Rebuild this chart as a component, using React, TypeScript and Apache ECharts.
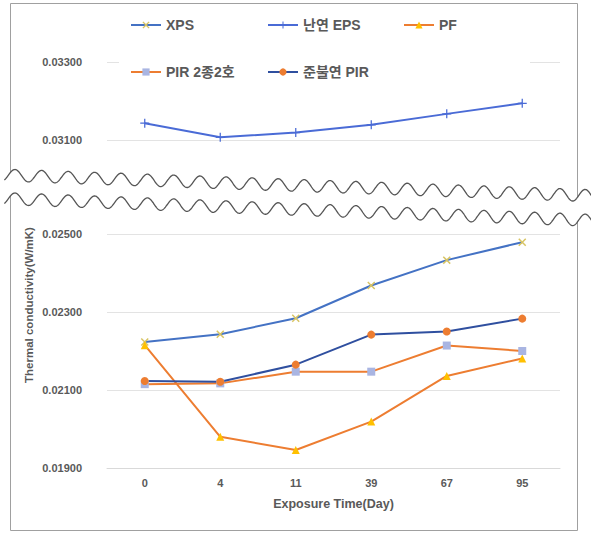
import React, { useEffect, useRef } from "react";
import * as echarts from "echarts";

const categories = ["0", "4", "11", "39", "67", "95"];
const xpsValues = [0.02223, 0.02243, 0.02284, 0.02368, 0.02433, 0.02479];
const epsValues = [0.03143, 0.03107, 0.03119, 0.03139, 0.03167, 0.03194];
const pfValues = [0.02215, 0.0198, 0.01946, 0.02019, 0.02136, 0.02181];
const pir22Values = [0.02115, 0.02117, 0.02147, 0.02147, 0.02214, 0.022];
const pirSemiValues = [0.02123, 0.02121, 0.02165, 0.02242, 0.0225, 0.02283];

const topTicks = { min: 0.031, max: 0.033, interval: 0.002 };
const bottomTicks = { min: 0.019, max: 0.025, interval: 0.002 };

const GRAY = "#595959";
const FONT = "'Liberation Sans', 'Noto Sans CJK KR', sans-serif";

const X_SYMBOL =
  "path://M0,1.3L1.3,0L5,3.7L8.7,0L10,1.3L6.3,5L10,8.7L8.7,10L5,6.3L1.3,10L0,8.7L3.7,5Z";
const PLUS_SYMBOL = "path://M4.3,0H5.7V4.3H10V5.7H5.7V10H4.3V5.7H0V4.3H4.3Z";

function wavePoints(c0: number, slope: number, amp: number): number[][] {
  const pts: number[][] = [];
  for (let t = -0.4; t <= 22.3; t += 0.02) {
    const x = 15 + 26.67 * t - 0.0342 * t * t;
    const y = c0 + slope * (x - 15) - amp * Math.cos(2 * Math.PI * t);
    pts.push([x, y]);
  }
  return pts;
}

export default function App() {
  const ref = useRef<HTMLDivElement>(null);
  useEffect(() => {
    if (!ref.current) return;
    const chart = echarts.init(ref.current, null, { renderer: "svg" });
    const w1 = wavePoints(175.5, 0.035, 6);
    const w2 = wavePoints(199, 0.037, 6);
    const fill = [...w1, ...w2.slice().reverse()];

    const legendBase = {
      orient: "horizontal",
      itemWidth: 30,
      itemHeight: 9,
      padding: 0,
      z: 200,
      textStyle: { color: GRAY, fontSize: 14, fontWeight: "bold", fontFamily: FONT },
    };

    const yLabel = {
      color: GRAY,
      fontSize: 11,
      fontWeight: "bold",
      fontFamily: FONT,
      margin: 25,
      formatter: (v: number) => v.toFixed(5),
    };

    const option: any = {
      animation: false,
      backgroundColor: "#ffffff",
      grid: [
        { left: 107, right: 31, top: 62, height: 78 },
        { left: 107, right: 31, top: 234, height: 234 },
      ],
      legend: [
        { ...legendBase, data: ["XPS"], left: 130, top: 18 },
        { ...legendBase, data: ["난연 EPS"], left: 267, top: 18 },
        { ...legendBase, data: ["PF"], left: 403, top: 18 },
        { ...legendBase, data: ["PIR 2종2호"], left: 130, top: 65 },
        { ...legendBase, data: ["준불연 PIR"], left: 267, top: 65 },
      ],
      xAxis: [
        {
          type: "category",
          gridIndex: 0,
          data: categories,
          show: false,
          boundaryGap: true,
        },
        {
          type: "category",
          gridIndex: 1,
          data: categories,
          boundaryGap: true,
          axisLine: { show: true, lineStyle: { color: "#D9D9D9", width: 1 } },
          axisTick: { show: false },
          axisLabel: { color: GRAY, fontSize: 11, fontWeight: "bold", fontFamily: FONT, margin: 9 },
          name: "Exposure Time(Day)",
          nameLocation: "middle",
          nameGap: 30,
          nameTextStyle: { color: GRAY, fontSize: 12.5, fontWeight: "bold", fontFamily: FONT },
        },
      ],
      yAxis: [
        {
          type: "value",
          gridIndex: 0,
          ...topTicks,
          axisLine: { show: false },
          axisTick: { show: false },
          axisLabel: yLabel,
          splitLine: { lineStyle: { color: "#E3E3E3", width: 1 } },
        },
        {
          type: "value",
          gridIndex: 1,
          ...bottomTicks,
          axisLine: { show: false },
          axisTick: { show: false },
          axisLabel: yLabel,
          splitLine: { lineStyle: { color: "#E3E3E3", width: 1 } },
        },
      ],
      series: [
        {
          name: "XPS",
          type: "line",
          xAxisIndex: 1,
          yAxisIndex: 1,
          data: xpsValues,
          symbol: X_SYMBOL,
          symbolSize: 8,
          lineStyle: { color: "#4472C4", width: 2 },
          itemStyle: { color: "#D8C463" },
        },
        {
          name: "난연 EPS",
          type: "line",
          xAxisIndex: 0,
          yAxisIndex: 0,
          data: epsValues,
          symbol: PLUS_SYMBOL,
          symbolSize: 9,
          lineStyle: { color: "#4A6BD6", width: 2 },
          itemStyle: { color: "#4A6BD6" },
        },
        {
          name: "PF",
          type: "line",
          xAxisIndex: 1,
          yAxisIndex: 1,
          data: pfValues,
          symbol: "triangle",
          symbolSize: 8,
          lineStyle: { color: "#ED7D31", width: 2 },
          itemStyle: { color: "#FFC000" },
        },
        {
          name: "PIR 2종2호",
          type: "line",
          xAxisIndex: 1,
          yAxisIndex: 1,
          data: pir22Values,
          symbol: "rect",
          symbolSize: 8,
          lineStyle: { color: "#ED7D31", width: 2 },
          itemStyle: { color: "#A9B5E2" },
        },
        {
          name: "준불연 PIR",
          type: "line",
          xAxisIndex: 1,
          yAxisIndex: 1,
          data: pirSemiValues,
          symbol: "circle",
          symbolSize: 8,
          lineStyle: { color: "#2F4F9F", width: 2 },
          itemStyle: { color: "#ED7D31" },
        },
      ],
      graphic: [
        {
          type: "rect",
          z: 0,
          shape: { x: 10.5, y: 3.5, width: 567, height: 527 },
          style: { fill: "none", stroke: "#A0A0A0", lineWidth: 1 },
        },
        {
          type: "rect",
          z: 50,
          shape: { x: 119, y: 50, width: 411, height: 25 },
          style: { fill: "#ffffff" },
        },
        {
          type: "polygon",
          z: 60,
          shape: { points: fill },
          style: { fill: "#ffffff" },
        },
        {
          type: "polyline",
          z: 61,
          shape: { points: w1 },
          style: { stroke: "#555555", lineWidth: 1.3, fill: "none" },
        },
        {
          type: "polyline",
          z: 61,
          shape: { points: w2 },
          style: { stroke: "#555555", lineWidth: 1.3, fill: "none" },
        },
        {
          type: "text",
          z: 70,
          x: 29,
          y: 305,
          rotation: Math.PI / 2,
          style: {
            text: "Thermal conductivity(W/mK)",
            fill: GRAY,
            font: "bold 11.5px 'Liberation Sans', sans-serif",
            align: "center",
            verticalAlign: "middle",
          },
        },
      ],
    };
    chart.setOption(option);
    return () => chart.dispose();
  }, []);
  return (
    <div
      ref={ref}
      style={{ position: "absolute", left: 0, top: 0, width: 591, height: 537, background: "#fff" }}
    />
  );
}
